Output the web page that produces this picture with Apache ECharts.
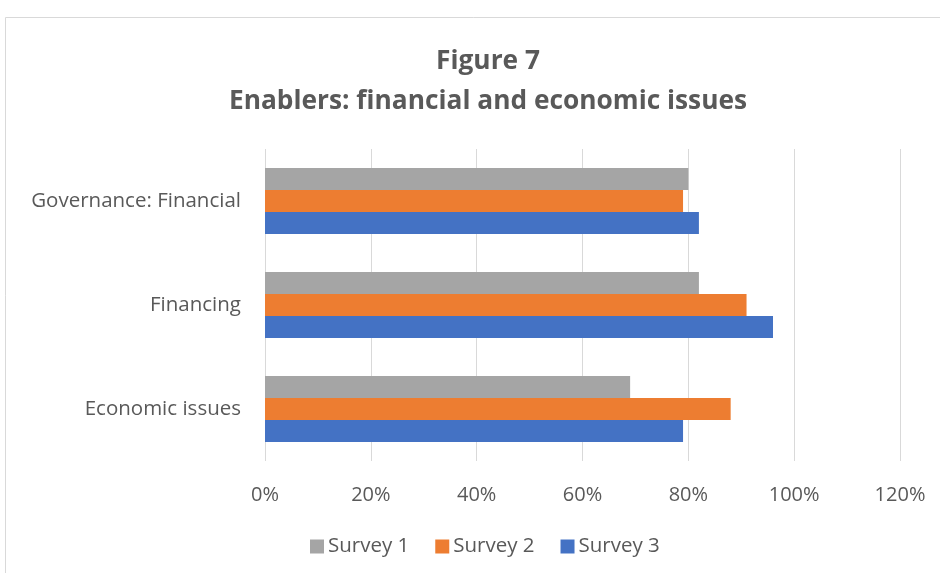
<!DOCTYPE html>
<html>
<head>
<meta charset="utf-8">
<script src="https://cdn.jsdelivr.net/npm/echarts@6/dist/echarts.min.js"></script>
<style>html,body{margin:0;padding:0;background:#fff}#c{width:940px;height:573px}</style>
</head>
<body>
<div id="c"></div>
<script>
const categories = ['Economic issues', 'Financing', 'Governance: Financial'];
const survey1 = [69, 82, 80];
const survey2 = [88, 91, 79];
const survey3 = [79, 96, 82];
const seriesNames = ['Survey 1', 'Survey 2', 'Survey 3'];
const xTicks = [0, 20, 40, 60, 80, 100, 120];

const font = 'Open Sans';
const chart = echarts.init(document.getElementById('c'));
chart.setOption({
  animation: false,
  graphic: [{
    type: 'rect', shape: {x: 5.5, y: 17.5, width: 1000, height: 1000},
    style: {fill: 'none', stroke: '#d9d9d9', lineWidth: 1}, silent: true, z: -1
  }],
  title: {
    text: 'Figure 7\nEnablers: financial and economic issues',
    left: 483, top: 37, textAlign: 'center',
    textStyle: {fontFamily: font, fontWeight: 'bold', fontSize: 26.3, color: '#595959', lineHeight: 40}
  },
  legend: {
    data: seriesNames, top: 536, left: 310, padding: 0, itemWidth: 14, itemHeight: 14, itemGap: 26,
    icon: 'rect',
    textStyle: {fontFamily: font, fontSize: 20.5, color: '#595959', padding: [0, 0, 0, -1]}
  },
  grid: {left: 265, right: 40, top: 149, bottom: 112, containLabel: false},
  xAxis: {
    type: 'value', min: 0, max: 120, interval: 20,
    axisLabel: {formatter: v => v + '%', fontFamily: font, fontSize: 20, color: '#595959', margin: 24},
    axisLine: {show: false}, axisTick: {show: false},
    splitLine: {lineStyle: {color: '#d9d9d9', width: 1}}
  },
  yAxis: {
    type: 'category', data: categories,
    axisLabel: {fontFamily: font, fontSize: 20.5, color: '#595959', margin: 24},
    axisLine: {show: false}, axisTick: {show: false}
  },
  series: [
    {name: 'Survey 1', type: 'bar', data: survey1, itemStyle: {color: '#a5a5a5'}, barGap: '0%', barCategoryGap: '36.5%'},
    {name: 'Survey 2', type: 'bar', data: survey2, itemStyle: {color: '#ed7d31'}},
    {name: 'Survey 3', type: 'bar', data: survey3, itemStyle: {color: '#4472c4'}}
  ]
});
</script>
</body>
</html>
